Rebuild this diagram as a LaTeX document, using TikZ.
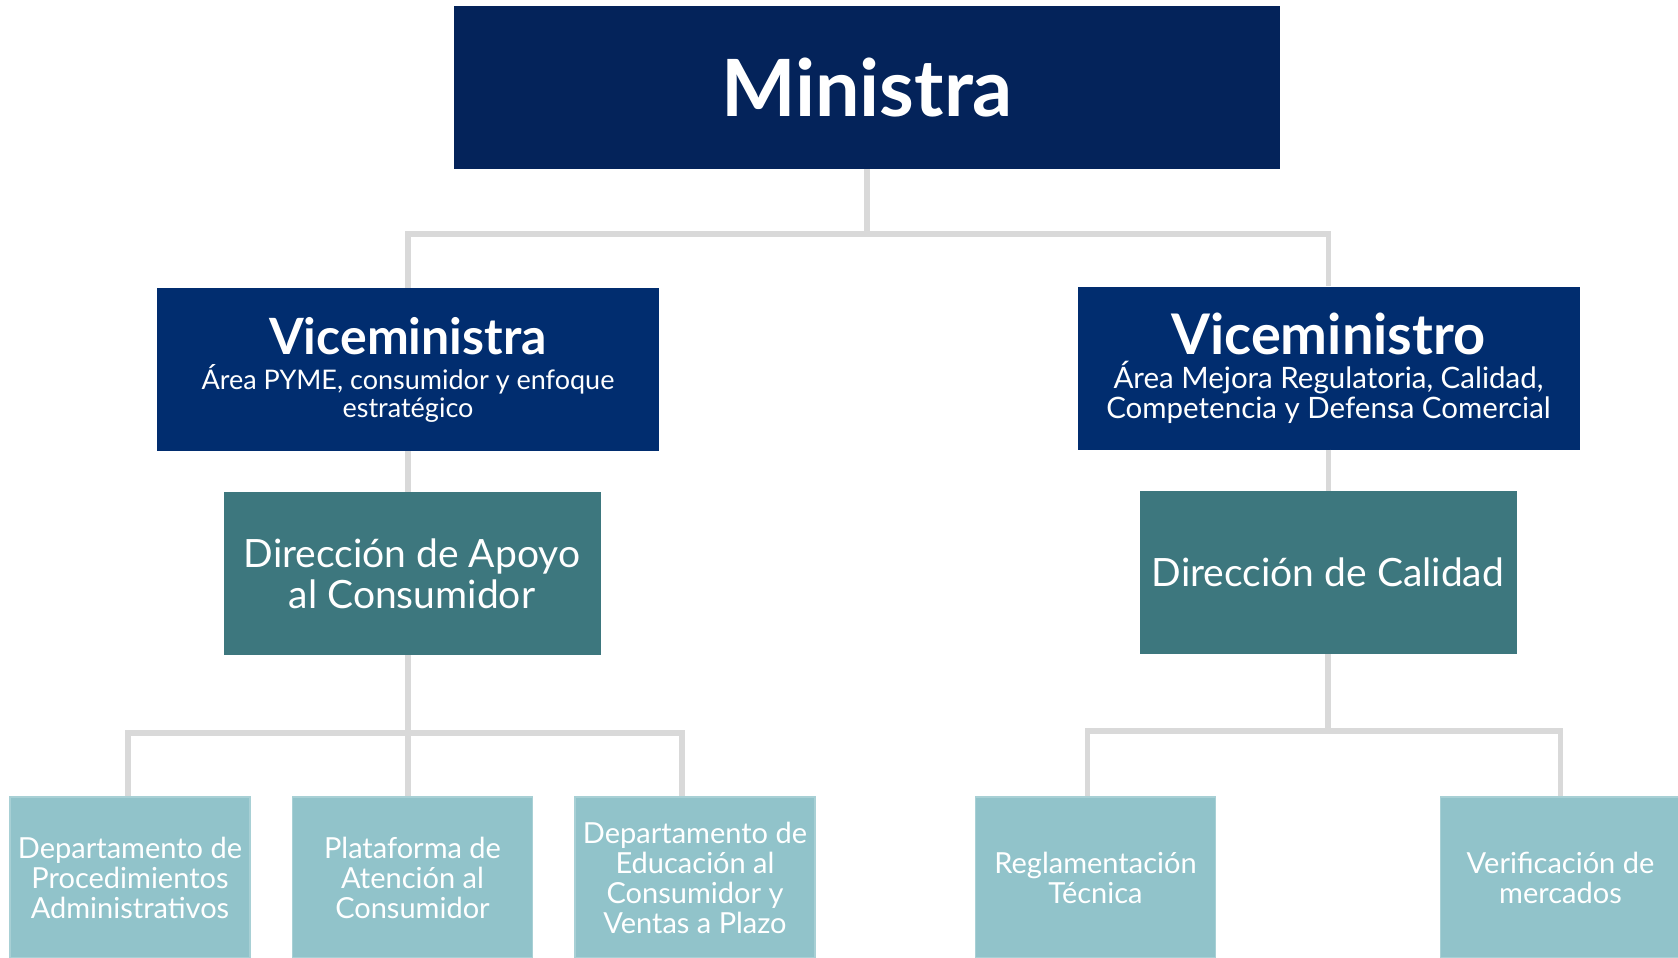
\documentclass[tikz,border=0pt]{standalone}
\usepackage{fontspec}
\setmainfont{Lato}
\definecolor{ministra}{HTML}{04235A}
\definecolor{vice}{HTML}{012D6F}
\definecolor{direccion}{HTML}{3D777E}
\definecolor{depto}{HTML}{91C3CA}
\definecolor{deptoborde}{HTML}{A8D0D5}
\definecolor{linea}{HTML}{D9D9D9}
\tikzset{
  jefe/.style={fill=ministra, text=white, minimum width=826pt, minimum height=163pt, inner sep=0pt, align=center},
  vicebox/.style={fill=vice, text=white, minimum width=502pt, minimum height=163pt, inner sep=0pt, align=center, font=\fontsize{27}{28}\selectfont},
  dirbox/.style={fill=direccion, text=white, minimum width=377pt, minimum height=163pt, inner sep=0pt, align=center, font=\fontsize{39}{41}\selectfont},
  deptobox/.style={fill=depto, draw=deptoborde, line width=1.5pt, text=white, minimum width=240pt, minimum height=161pt, inner sep=0pt, align=center, font=\fontsize{29}{30}\selectfont},
  conector/.style={draw=linea, line width=5.5pt}
}
\begin{document}
\begin{tikzpicture}[x=1pt,y=-1pt]
\useasboundingbox (0,0) rectangle (1678,958);

% cajas
\node[jefe] (min) at (867,87.5) {\fontsize{79}{90}\selectfont\bfseries Ministra};

\node[vicebox] (vmla) at (408,369.5) {{\fontsize{50}{56}\selectfont\bfseries Viceministra}\\[7pt]
  Área PYME, consumidor y enfoque\\estratégico};
\node[vicebox, font=\fontsize{29.5}{30}\selectfont] (vmlo) at (1328.5,368) {{\fontsize{56}{60}\selectfont\bfseries Viceministro}\\[4pt]
  Área Mejora Regulatoria, Calidad,\\Competencia y Defensa Comercial};

\node[dirbox] (dac) at (412,573.5) {Dirección de Apoyo\\al Consumidor};
\node[dirbox] (dc) at (1328,572.5) {Dirección de Calidad};

\node[deptobox] (d1) at (130,877.5) {Departamento de\\Procedimientos\\Administrativos};
\node[deptobox] (d2) at (412.5,877.5) {Plataforma de\\Atención al\\Consumidor};
\node[deptobox] (d3) at (695,877.5) {Departamento de\\Educación al\\Consumidor y\\Ventas a Plazo};
\node[deptobox] (r1) at (1095.5,877.5) {Reglamentación\\Técnica};
\node[deptobox] (r2) at (1560.5,877.5) {Verificación de\\mercados};

% lineas
\coordinate (busA) at (867,234);
\coordinate (busB) at (408,733);
\coordinate (busC) at (1328,731);
\coordinate (d1top) at ([xshift=-2pt]d1.north);
\coordinate (d3top) at ([xshift=-13pt]d3.north);
\coordinate (r1top) at ([xshift=-8pt]r1.north);

\draw[conector] (min.south) -- (busA);
\draw[conector] (vmla.north) |- (busA) -| (vmlo.north);

\draw[conector] (vmla.south) -- (vmla.south |- dac.north);
\draw[conector] (vmla.south |- dac.south) -- (busB);
\draw[conector] (d1top) |- (busB) -| (d3top);
\draw[conector] (busB) -- (busB |- d2.north);

\draw[conector] (vmlo.south) -- (vmlo.south |- dc.north);
\draw[conector] (dc.south) -- (busC);
\draw[conector] (r1top) |- (busC) -| (r2.north);
\end{tikzpicture}
\end{document}
